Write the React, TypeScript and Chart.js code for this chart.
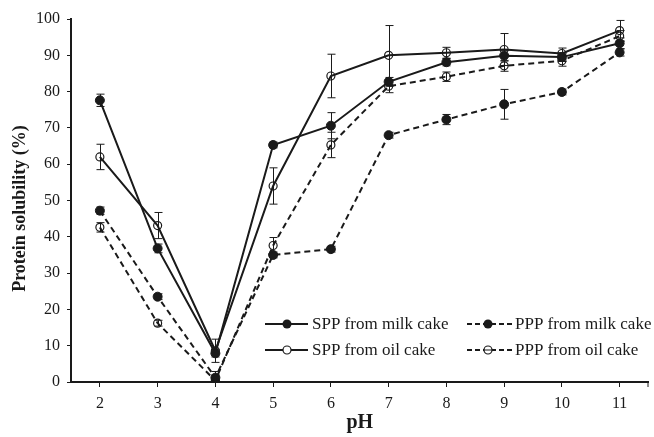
import React, { useEffect, useRef } from "react";
import { Chart, registerables } from "chart.js";

Chart.register(...registerables);

const phLabels = ["2", "3", "4", "5", "6", "7", "8", "9", "10", "11"];

const sppMilk = [77.6, 36.8, 7.9, 65.3, 70.6, 82.7, 88.1, 89.9, 89.5, 93.3];
const sppMilkErr = [1.7, 1.2, 1.0, 0.8, 3.6, 1.2, 1.0, 1.5, 1.2, 1.5];

const sppOil = [62.0, 43.1, 8.6, 54.0, 84.3, 90.0, 90.7, 91.6, 90.5, 96.8];
const sppOilErr = [3.5, 3.6, 3.2, 5.0, 6.0, 8.2, 1.5, 4.4, 1.5, 2.8];

const pppMilk = [47.2, 23.5, 1.2, 35.0, 36.6, 68.0, 72.3, 76.5, 79.9, 90.8];
const pppMilkErr = [1.0, 0.8, 0.8, 0.8, 0.8, 0.8, 1.4, 4.1, 0.8, 1.0];

const pppOil = [42.6, 16.2, 0.4, 37.6, 65.3, 81.5, 84.1, 87.1, 88.5, 95.3];
const pppOilErr = [1.3, 0.8, 2.5, 2.2, 3.5, 1.8, 1.3, 1.5, 1.5, 1.5];

const seriesNames = [
  "SPP from milk cake",
  "SPP from oil cake",
  "PPP from milk cake",
  "PPP from oil cake",
];

const yTitle = "Protein solubility (%)";
const xTitle = "pH";

const FONT = "'Liberation Serif', 'Times New Roman', serif";
const INK = "#1a1a1a";
const DASH = [6, 4];

export default function App() {
  const ref = useRef<HTMLCanvasElement | null>(null);

  useEffect(() => {
    document.body.style.margin = "0";
    document.body.style.overflow = "hidden";
    const canvas = ref.current;
    if (!canvas) return;

    const errors = [sppMilkErr, sppOilErr, pppMilkErr, pppOilErr];

    const errorBars = {
      id: "errorBars",
      afterDatasetsDraw(chart: any) {
        const ctx = chart.ctx;
        const ys = chart.scales.y;
        ctx.save();
        ctx.strokeStyle = INK;
        ctx.lineWidth = 1;
        ctx.setLineDash([]);
        chart.data.datasets.forEach((ds: any, i: number) => {
          const meta = chart.getDatasetMeta(i);
          meta.data.forEach((pt: any, j: number) => {
            const v = ds.data[j];
            const e = errors[i][j];
            const x = Math.round(pt.x) + 0.5;
            const y1 = ys.getPixelForValue(v + e);
            const y2 = ys.getPixelForValue(Math.max(0, v - e));
            ctx.beginPath();
            ctx.moveTo(x, y1);
            ctx.lineTo(x, y2);
            ctx.moveTo(x - 4, y1);
            ctx.lineTo(x + 4, y1);
            ctx.moveTo(x - 4, y2);
            ctx.lineTo(x + 4, y2);
            ctx.stroke();
          });
        });
        const a = chart.chartArea;
        ctx.beginPath();
        ctx.moveTo(a.right - 0.5, a.bottom);
        ctx.lineTo(a.right - 0.5, a.bottom + 5);
        ctx.stroke();
        ctx.restore();
      },
    };

    const yTitlePlugin = {
      id: "yTitle",
      afterDraw(chart: any) {
        const ctx = chart.ctx;
        const a = chart.chartArea;
        ctx.save();
        ctx.translate(20, (a.top + a.bottom) / 2 + 8);
        ctx.rotate(-Math.PI / 2);
        ctx.fillStyle = INK;
        ctx.font = `bold 18px ${FONT}`;
        ctx.textAlign = "center";
        ctx.textBaseline = "middle";
        ctx.fillText(yTitle, 0, 0);
        ctx.restore();
      },
    };

    const legendPlugin = {
      id: "customLegend",
      afterDraw(chart: any) {
        const ctx = chart.ctx;
        const items = [
          { name: seriesNames[0], dashed: false, filled: true, x0: 265, x1: 308, mx: 287, tx: 312, y: 324 },
          { name: seriesNames[2], dashed: true, filled: true, x0: 467, x1: 512, mx: 488, tx: 515, y: 324 },
          { name: seriesNames[1], dashed: false, filled: false, x0: 265, x1: 308, mx: 287, tx: 312, y: 350 },
          { name: seriesNames[3], dashed: true, filled: false, x0: 467, x1: 512, mx: 488, tx: 515, y: 350 },
        ];
        ctx.save();
        items.forEach((it) => {
          ctx.strokeStyle = INK;
          ctx.lineWidth = 2;
          ctx.setLineDash(it.dashed ? [5, 3] : []);
          ctx.beginPath();
          ctx.moveTo(it.x0, it.y);
          ctx.lineTo(it.x1, it.y);
          ctx.stroke();
          ctx.setLineDash([]);
          ctx.beginPath();
          ctx.arc(it.mx, it.y, it.filled ? 4.5 : 4, 0, Math.PI * 2);
          if (it.filled) {
            ctx.fillStyle = INK;
            ctx.fill();
          } else {
            ctx.fillStyle = "#fff";
            ctx.fill();
            ctx.lineWidth = 1.2;
            ctx.stroke();
            if (it.dashed) {
              ctx.beginPath();
              ctx.moveTo(it.mx - 4, it.y);
              ctx.lineTo(it.mx + 4, it.y);
              ctx.lineWidth = 1;
              ctx.stroke();
            }
          }
          ctx.fillStyle = INK;
          ctx.font = `17px ${FONT}`;
          ctx.textBaseline = "middle";
          ctx.textAlign = "left";
          ctx.fillText(it.name, it.tx, it.y + 1);
        });
        ctx.restore();
      },
    };

    const mk = (label: string, data: number[], filled: boolean, dashed: boolean) => ({
      label,
      data,
      borderColor: INK,
      borderWidth: 2,
      borderDash: dashed ? DASH : [],
      pointRadius: filled ? 4.5 : 4,
      pointHoverRadius: filled ? 4.5 : 4,
      pointBackgroundColor: filled ? INK : "rgba(0,0,0,0)",
      pointBorderColor: INK,
      pointBorderWidth: filled ? 1 : 1.2,
      tension: 0,
      fill: false,
    });

    const chart = new Chart(canvas, {
      type: "line",
      data: {
        labels: phLabels,
        datasets: [
          mk(seriesNames[0], sppMilk, true, false),
          mk(seriesNames[1], sppOil, false, false),
          mk(seriesNames[2], pppMilk, true, true),
          mk(seriesNames[3], pppOil, false, true),
        ],
      },
      options: {
        responsive: false,
        animation: false,
        layout: { padding: { left: 0, right: 4, top: 19, bottom: 0 } },
        plugins: {
          legend: { display: false },
          tooltip: { enabled: false },
        },
        scales: {
          x: {
            type: "category",
            offset: true,
            grid: {
              display: true,
              drawOnChartArea: false,
              drawTicks: true,
              tickLength: 5,
              color: INK,
              lineWidth: 1,
              offset: false,
            },
            border: { display: true, color: INK, width: 2 },
            ticks: {
              font: { family: FONT, size: 16 },
              color: INK,
              padding: 7,
              maxRotation: 0,
              autoSkip: false,
            },
            title: {
              display: true,
              text: xTitle,
              font: { family: FONT, size: 20, weight: "bold" },
              color: INK,
              padding: { top: 4, bottom: 2 },
            },
            afterFit: (s: any) => {
              s.height = 55;
            },
          },
          y: {
            min: 0,
            max: 100,
            grid: {
              display: true,
              drawOnChartArea: false,
              drawTicks: true,
              tickLength: 4,
              color: INK,
              lineWidth: 1,
            },
            border: { display: true, color: INK, width: 2 },
            ticks: {
              stepSize: 10,
              font: { family: FONT, size: 16 },
              color: INK,
              padding: 7,
            },
            title: { display: false },
            afterFit: (s: any) => {
              s.width = 71;
            },
          },
        },
      },
      plugins: [errorBars, legendPlugin, yTitlePlugin],
    } as any);

    return () => chart.destroy();
  }, []);

  return (
    <div style={{ width: 654, height: 437 }}>
      <canvas ref={ref} width={654} height={437} />
    </div>
  );
}
